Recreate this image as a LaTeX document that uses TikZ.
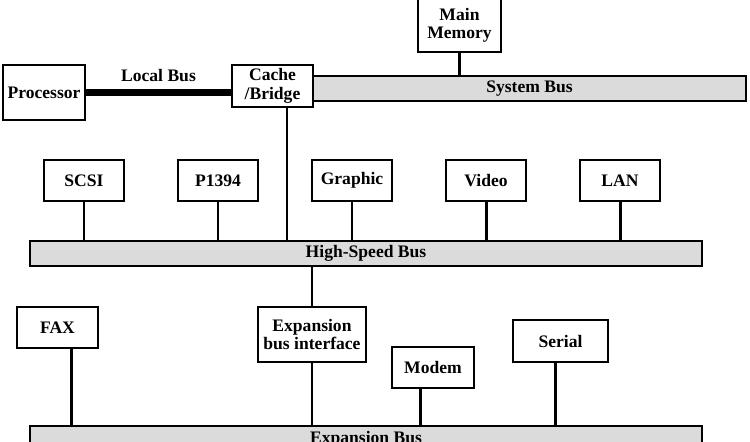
\documentclass[tikz,border=0pt]{standalone}
\usepackage{fontspec}
\setmainfont{Liberation Serif}

\begin{document}
\begin{tikzpicture}[x=0.02cm, y=-0.02cm,
    font=\fontsize{10}{10.5}\selectfont\bfseries,
    unit/.style={draw, line width=1.1pt, fill=white, inner sep=0pt, align=center,
        minimum width=1.6cm, minimum height=0.82cm},
    bus/.style={draw, line width=1.1pt, fill=black!14, inner sep=0pt,
        minimum height=0.5cm},
    wire/.style={line width=1.7pt}]
    \useasboundingbox (0,0) rectangle (750,442);
    \clip (0,0) rectangle (750,442);
    \node[unit, minimum width=1.66cm, minimum height=1.06cm] (mem) at (459.5,25.5) {Main\\Memory};
    \node[unit, minimum width=1.64cm, minimum height=1.1cm] (proc) at (44,92.5) {Processor};
    \node[unit, minimum width=1.62cm, minimum height=0.84cm] (cache) at (272.5,86) {Cache\\/Bridge};
    \node[bus, minimum width=8.66cm] (sysbus) at (529.5,88.5) {System Bus};
    \node[unit] (scsi) at (84,180.5) {SCSI};
    \node[unit] (p1394) at (218,180.5) {P1394};
    \node[unit] (graphic) at (352,180.5) {Graphic};
    \node[unit] (video) at (486,180.5) {Video};
    \node[unit] (lan) at (620,180.5) {LAN};
    \node[bus, minimum width=13.44cm] (hsbus) at (366,253.5) {High-Speed Bus};
    \node[unit, minimum width=1.62cm] (fax) at (57.5,327.5) {FAX};
    \node[unit, minimum width=2.16cm, minimum height=1.1cm] (iface) at (312,334.5) {Expansion\\bus interface};
    \node[unit, minimum width=1.64cm] (modem) at (433,367.5) {Modem};
    \node[unit, minimum width=1.9cm, minimum height=0.84cm] (serial) at (560.5,341) {Serial};
    \node[bus, minimum width=13.44cm, minimum height=0.52cm] (exbus) at (366,439) {Expansion Bus};

    \draw[line width=4pt] (proc.east) -- (proc.east -| cache.west)
        node[midway, above=1pt] {Local Bus};
    \draw[wire] (mem.south) -- (mem.south |- sysbus.north);
    \draw[wire] ([xshift=0.29cm]cache.south) -- ([xshift=0.29cm]cache.south |- hsbus.north);
    \foreach \dev in {scsi,p1394,graphic,video,lan}
        \draw[wire] (\dev.south) -- (\dev.south |- hsbus.north);
    \draw[wire] (hsbus.south -| iface.north) -- (iface.north);
    \draw[wire] ([xshift=0.28cm]fax.south) -- ([xshift=0.28cm]fax.south |- exbus.north);
    \draw[wire] (iface.south) -- (iface.south |- exbus.north);
    \draw[wire] ([xshift=-0.26cm]modem.south) -- ([xshift=-0.26cm]modem.south |- exbus.north);
    \draw[wire] ([xshift=-0.11cm]serial.south) -- ([xshift=-0.11cm]serial.south |- exbus.north);
\end{tikzpicture}
\end{document}
